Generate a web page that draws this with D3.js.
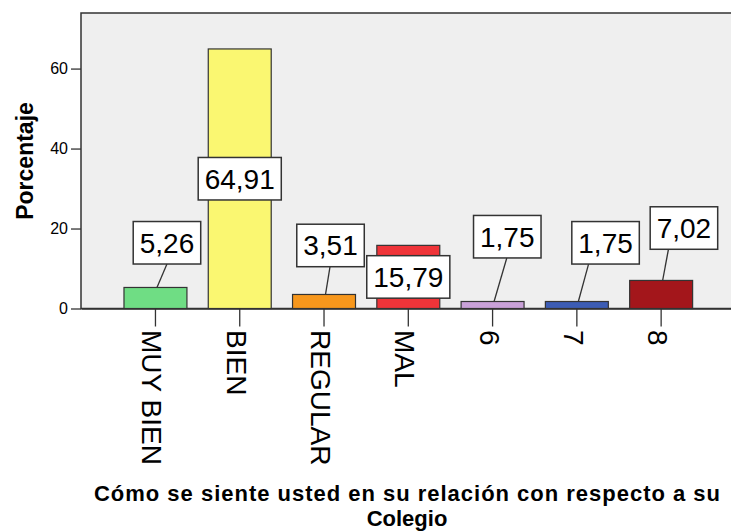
<!DOCTYPE html>
<html>
<head>
<meta charset="utf-8">
<script src="https://cdn.jsdelivr.net/npm/d3@7"></script>
<style>
  body { margin: 0; background: #fff; }
  svg { display: block; }
  text { font-family: "Liberation Sans", Arial, sans-serif; fill: #000; }
</style>
</head>
<body>
<svg width="731" height="531"></svg>
<script>
// ---- data ----
const categories = ["MUY BIEN", "BIEN", "REGULAR", "MAL", "6", "7", "8"];
const percentages = [5.26, 64.91, 3.51, 15.79, 1.75, 1.75, 7.02];
const yTicks = [0, 20, 40, 60];

// ---- styles / layout ----
const barColors = ["#6fdd84", "#faf771", "#f7971c", "#ef3439", "#c9a1d8", "#3c5cb4", "#a3161b"];
// label box placement: null = centred in bar, else offset of box centre from bar top (px)
const labelPlacement = [
  { dx: 11.5, dy: 44.7, lineDx: 0 },
  null,
  { dx: 6.5, dy: 49, lineDx: -0.5 },
  null,
  { dx: 14.7, dy: 64.8, lineDx: -0.5 },
  { dx: 28.7, dy: 58.7, lineDx: -17 },
  { dx: 22.8, dy: 52.4, lineDx: -15.5 },
];

const svg = d3.select("svg");
const plot = { left: 81, top: 13, right: 735.6, bottom: 308.5 };

const x = d3.scaleBand()
  .domain(categories)
  .range([plot.left, plot.right])
  .paddingInner(0.253)
  .paddingOuter(0.51);
const y = d3.scaleLinear().domain([0, 73.9]).range([plot.bottom, plot.top]);

const fmt = d3.formatLocale({ decimal: ",", thousands: ".", grouping: [3], currency: ["", ""] }).format(".2f");

// plot background
svg.append("rect")
  .attr("x", plot.left)
  .attr("y", plot.top)
  .attr("width", plot.right - plot.left)
  .attr("height", plot.bottom - plot.top)
  .attr("fill", "#efefef")
  .attr("stroke", "#333")
  .attr("stroke-width", 1.5);

// bars
svg.append("g")
  .selectAll("rect")
  .data(percentages)
  .join("rect")
  .attr("x", (d, i) => x(categories[i]))
  .attr("y", (d) => y(d))
  .attr("width", x.bandwidth())
  .attr("height", (d) => y(0) - y(d))
  .attr("fill", (d, i) => barColors[i])
  .attr("stroke", "#333")
  .attr("stroke-width", 1.2);

// y axis
const yAxis = svg.append("g")
  .attr("transform", `translate(${plot.left},0)`)
  .call(d3.axisLeft(y).tickValues(yTicks).tickSize(10).tickPadding(3));
yAxis.select(".domain").remove();
yAxis.selectAll("line").attr("stroke", "#333").attr("stroke-width", 1.3);
yAxis.selectAll("text").style("font-size", "16px").attr("fill", "#222");

// x axis
const xAxis = svg.append("g")
  .attr("transform", `translate(0,${plot.bottom})`)
  .call(d3.axisBottom(x).tickSize(18).tickSizeOuter(0));
xAxis.select(".domain").attr("stroke", "#333").attr("stroke-width", 1.5);
xAxis.selectAll("line").attr("stroke", "#333").attr("stroke-width", 1.3);
xAxis.selectAll("text")
  .attr("transform", "rotate(90)")
  .attr("x", 21.5)
  .attr("y", 13)
  .attr("dy", null)
  .style("text-anchor", "start")
  .style("font-size", "28px");

// value labels
const labels = svg.append("g");
percentages.forEach((v, i) => {
  const cx = x(categories[i]) + x.bandwidth() / 2;
  const place = labelPlacement[i];
  const boxCx = place ? cx + place.dx : cx;
  const boxCy = place ? y(v) - place.dy : (y(v) + y(0)) / 2;
  const h = 42.5;
  const g = labels.append("g");
  const t = g.append("text")
    .attr("x", boxCx)
    .attr("y", boxCy + 10)
    .attr("text-anchor", "middle")
    .style("font-size", "28px")
    .text(fmt(v));
  const w = t.node().getComputedTextLength() + 13;
  if (place) {
    g.insert("line", "text")
      .attr("x1", cx + 1.5)
      .attr("y1", y(v))
      .attr("x2", boxCx + place.lineDx)
      .attr("y2", boxCy + h / 2)
      .attr("stroke", "#333")
      .attr("stroke-width", 1.3);
  }
  g.insert("rect", "text")
    .attr("x", boxCx - w / 2)
    .attr("y", boxCy - h / 2)
    .attr("width", w)
    .attr("height", h)
    .attr("fill", "#fff")
    .attr("stroke", "#333")
    .attr("stroke-width", 1.5);
});

// axis titles
svg.append("text")
  .attr("transform", "translate(33,161) rotate(-90)")
  .attr("text-anchor", "middle")
  .style("font-size", "23px")
  .style("font-weight", "bold")
  .text("Porcentaje");

const title = svg.append("text")
  .attr("text-anchor", "middle")
  .style("font-size", "22px")
  .style("font-weight", "bold");
title.append("tspan").attr("x", 407).attr("y", 501).attr("textLength", 626).text("Cómo se siente usted en su relación con respecto a su");
title.append("tspan").attr("x", 407).attr("y", 526).text("Colegio");
</script>
</body>
</html>
